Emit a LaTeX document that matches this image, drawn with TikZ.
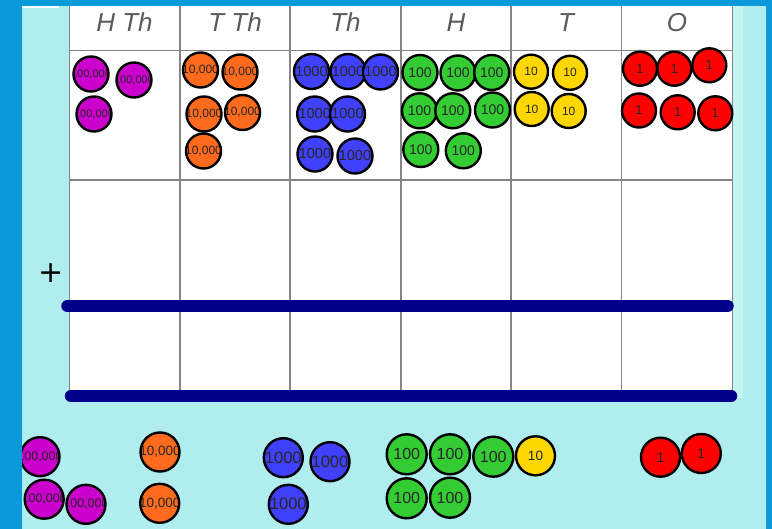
\documentclass[tikz,border=0pt]{standalone}
\usepackage{fontspec}
\setmainfont{Liberation Sans}
\newfontfamily\plusfont{DejaVu Sans}
\definecolor{frameblue}{HTML}{0A9ADB}
\definecolor{pagecyan}{HTML}{AFEDEE}
\definecolor{edgecyan}{HTML}{C4F4F4}
\definecolor{navyline}{HTML}{00008B}
\definecolor{gridgrey}{HTML}{858585}
\definecolor{headgrey}{HTML}{5A5A5A}
\definecolor{cHTh}{HTML}{CC00CC}
\definecolor{cTTh}{HTML}{FF6A1C}
\definecolor{cTh}{HTML}{4040FF}
\definecolor{cH}{HTML}{33CC33}
\definecolor{cT}{HTML}{FFD700}
\definecolor{cO}{HTML}{FF0000}

% place-value counter: name, centre, diameter, fill, font size, label
\newcommand\coin[6]{%
  \node[coin, minimum size=#3, fill=#4,
        path picture={\node[text=black!85, font=\fontsize{#5}{#5}\selectfont]
          at (path picture bounding box.center) {#6};}] (#1) at (#2) {};}

\begin{document}
\begin{tikzpicture}[x=1pt, y=-1pt,
  coin/.style={circle, draw=black, line width=2.4pt, inner sep=0pt},
  header/.style={text=headgrey, font=\fontsize{26}{26}\selectfont\itshape},
  gridline/.style={draw=gridgrey, line width=1.5pt},
  rule/.style={draw=navyline, line width=12.5pt, line cap=round}]

\useasboundingbox (0,0) rectangle (772,529);

% page and place-value chart
\fill[pagecyan] (0,0) rectangle (772,529);
\fill[white] (69,6) rectangle (733,396);
\fill[edgecyan] (733,6) rectangle (743,398);

\foreach \gx in {69.5,180,290,401,511,621.5,732.5}
  \draw[gridline] (\gx,6) -- (\gx,396);
\foreach \gy in {50.5,180}
  \draw[gridline] (69,\gy) -- (733,\gy);

% column headings
\node[header] (hHTh) at (124.5,22.5) {H Th};
\node[header] (hTTh) at (235,22.5) {T Th};
\node[header] (hTh)  at (345.5,22.5) {Th};
\node[header] (hH)   at (456,22.5) {H};
\node[header] (hT)   at (566,22.5) {T};
\node[header] (hO)   at (677,22.5) {O};

% addition rules
\draw[rule] (67.5,306) -- (727.5,306);
\draw[rule] (71,396) -- (731,396);
\node[font=\plusfont\fontsize{30}{30}\selectfont] (plus) at (51,273.5) {+};

% first number in the chart
\coin{a1}{91,74}{35pt}{cHTh}{11}{100,000}
\coin{a2}{134,80}{35pt}{cHTh}{11}{100,000}
\coin{a3}{94,114}{35pt}{cHTh}{11}{100,000}

\coin{b1}{200.5,70}{35pt}{cTTh}{12}{10,000}
\coin{b2}{240,72}{35pt}{cTTh}{12}{10,000}
\coin{b3}{204,114}{35pt}{cTTh}{12}{10,000}
\coin{b4}{242.5,112.5}{35pt}{cTTh}{12}{10,000}
\coin{b5}{203.5,151}{35pt}{cTTh}{12}{10,000}

\coin{c1}{311.5,71.5}{35pt}{cTh}{14.5}{1000}
\coin{c2}{348,71.5}{35pt}{cTh}{14.5}{1000}
\coin{c3}{380.5,72}{35pt}{cTh}{14.5}{1000}
\coin{c4}{314.7,114}{35pt}{cTh}{14.5}{1000}
\coin{c5}{347.5,114}{35pt}{cTh}{14.5}{1000}
\coin{c6}{315,154}{35pt}{cTh}{14.5}{1000}
\coin{c7}{355,156}{35pt}{cTh}{14.5}{1000}

\coin{d1}{420,72.5}{35pt}{cH}{14}{100}
\coin{d2}{458,73}{35pt}{cH}{14}{100}
\coin{d3}{491.7,72.5}{35pt}{cH}{14}{100}
\coin{d4}{419.5,110.8}{35pt}{cH}{14}{100}
\coin{d5}{452.8,110.8}{35pt}{cH}{14}{100}
\coin{d6}{492.5,110}{35pt}{cH}{14}{100}
\coin{d7}{420.8,149.5}{35pt}{cH}{14}{100}
\coin{d8}{463.3,150.8}{35pt}{cH}{14}{100}

\coin{e1}{531,71.7}{34pt}{cT}{12}{10}
\coin{e2}{570,72.8}{34pt}{cT}{12}{10}
\coin{e3}{531.7,109}{34pt}{cT}{12}{10}
\coin{e4}{568.7,111}{34pt}{cT}{12}{10}

\coin{f1}{640,68.7}{34pt}{cO}{13}{1}
\coin{f2}{674.3,68.7}{34pt}{cO}{13}{1}
\coin{f3}{709.3,65.3}{34pt}{cO}{13}{1}
\coin{f4}{639,110.5}{34pt}{cO}{13}{1}
\coin{f5}{677.7,112.3}{34pt}{cO}{13}{1}
\coin{f6}{715.3,113.3}{34pt}{cO}{13}{1}

% loose counters below the chart
\coin{g1}{40,456.7}{39pt}{cHTh}{12.5}{100,000}
\coin{g2}{44.2,499.2}{39pt}{cHTh}{12.5}{100,000}
\coin{g3}{86,504.3}{39pt}{cHTh}{12.5}{100,000}

\coin{h1}{160,452}{39pt}{cTTh}{13.5}{10,000}
\coin{h2}{159.7,503.3}{39pt}{cTTh}{13.5}{10,000}

\coin{i1}{283.3,457.7}{39pt}{cTh}{16.5}{1000}
\coin{i2}{330,461.7}{39pt}{cTh}{16.5}{1000}
\coin{i3}{288.3,504.3}{39pt}{cTh}{16.5}{1000}

\coin{j1}{406.7,454.3}{40pt}{cH}{16}{100}
\coin{j2}{450,454.3}{40pt}{cH}{16}{100}
\coin{j3}{493.3,456.7}{40pt}{cH}{16}{100}
\coin{k1}{535.5,455.8}{39pt}{cT}{13.5}{10}
\coin{j4}{406.7,498.3}{40pt}{cH}{16}{100}
\coin{j5}{450,497.7}{40pt}{cH}{16}{100}

\coin{l1}{660.5,457.2}{39pt}{cO}{14}{1}
\coin{l2}{701.3,453.5}{39pt}{cO}{14}{1}

% outer frame
\fill[frameblue] (0,0) rectangle (22,529);
\fill[frameblue] (0,0) rectangle (772,6);
\fill[frameblue] (766,0) rectangle (772,529);
\fill[white] (22,6) rectangle (59,8.5);
\end{tikzpicture}
\end{document}
